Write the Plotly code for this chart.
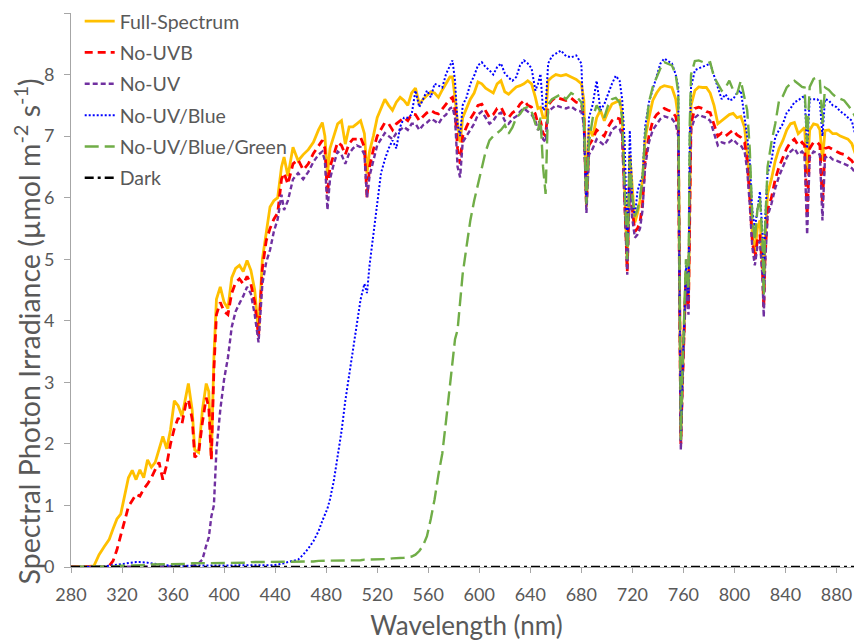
import plotly.graph_objects as go

wavelength = [280, 290, 298, 302, 306, 310, 313, 316, 319, 322, 325, 328, 331, 334, 337, 340, 343, 346, 349, 352,
              355, 358, 361, 364, 367, 370, 372, 375, 377, 380, 383, 386, 388, 390, 392, 394, 397, 400, 403, 406,
              409, 412, 415, 418, 421, 424, 427, 430, 433, 436, 439, 442, 445, 447, 450, 454, 458, 462, 466, 470,
              474, 477, 479, 481, 483, 486, 489, 492, 495, 498, 501, 504, 507, 510, 512, 514, 517, 520, 523, 526,
              529, 532, 535, 538, 541, 544, 547, 550, 553, 556, 559, 562, 565, 568, 571, 574, 577, 579, 581, 583,
              585, 587, 590, 593, 596, 599, 602, 605, 608, 611, 614, 617, 620, 623, 626, 629, 632, 635, 638, 641,
              644, 646, 648, 650, 652, 654, 657, 660, 664, 668, 672, 676, 680, 682, 684, 686, 689, 692, 695, 698,
              701, 704, 707, 710, 712, 714, 716, 718, 720, 722, 724, 726, 728, 730, 733, 736, 739, 742, 745, 748,
              751, 754, 756, 757, 758, 759, 760, 762, 764, 765, 766, 769, 772, 775, 778, 781, 784, 787, 790, 793,
              796, 799, 802, 805, 808, 810, 812, 814, 816, 818, 820, 822, 823, 824, 826, 829, 832, 835, 838, 841,
              844, 847, 850, 853, 855, 857, 859, 862, 865, 867, 869, 871, 874, 877, 880, 883, 886, 889, 892, 895,
              897, 899, 900]

full_spectrum = [0, 0, 0.02, 0.2, 0.33, 0.45, 0.62, 0.78, 0.86, 1.14, 1.45, 1.57, 1.42, 1.58, 1.45, 1.74, 1.62, 1.7, 1.9, 2.12,
                 1.92, 2.23, 2.7, 2.62, 2.45, 2.75, 2.98, 2.55, 1.9, 1.86, 2.55, 2.98, 2.85, 1.78, 3.4, 4.35, 4.55, 4.3, 4.2, 4.7,
                 4.85, 4.9, 4.8, 4.98, 4.82, 4.5, 3.8, 5.0, 5.45, 5.85, 5.95, 6.0, 6.5, 6.66, 6.35, 6.82, 6.6, 6.7, 6.78, 6.9,
                 7.1, 7.22, 7.0, 6.38, 6.8, 7.0, 7.2, 7.25, 6.87, 7.15, 7.15, 7.2, 7.25, 7.04, 6.39, 6.75, 7.0, 7.3, 7.45, 7.6,
                 7.5, 7.42, 7.55, 7.63, 7.58, 7.5, 7.7, 7.78, 7.52, 7.6, 7.66, 7.72, 7.7, 7.63, 7.75, 7.85, 7.96, 7.96, 7.63, 7.2,
                 6.9, 7.3, 7.45, 7.6, 7.7, 7.88, 7.85, 7.78, 7.74, 7.7, 7.85, 7.9, 7.72, 7.68, 7.74, 7.8, 7.82, 7.85, 7.9, 7.85,
                 7.63, 7.45, 7.47, 7.3, 7.3, 7.9, 7.96, 8.0, 7.98, 8.0, 7.96, 7.92, 7.85, 7.58, 5.85, 7.14, 7.0, 7.3, 7.42, 7.25,
                 7.4, 7.52, 7.55, 7.58, 7.36, 6.2, 4.87, 6.7, 6.1, 5.6, 5.75, 5.95, 6.3, 6.95, 7.3, 7.58, 7.7, 7.79, 7.82, 7.8,
                 7.79, 7.6, 7.3, 4.6, 2.1, 2.9, 3.6, 4.8, 4.3, 6.5, 7.5, 7.74, 7.8, 7.79, 7.79, 7.7, 7.5, 7.2, 7.25, 7.3,
                 7.35, 7.37, 7.3, 7.32, 7.14, 6.72, 6.2, 5.42, 5.1, 5.5, 5.63, 5.0, 4.5, 5.3, 6.07, 6.3, 6.6, 6.8, 6.93, 7.1,
                 7.2, 7.22, 7.04, 7.1, 7.14, 6.39, 7.1, 7.2, 7.18, 7.1, 6.6, 7.09, 7.1, 7.04, 7.04, 7.0, 6.98, 6.95, 6.88, 6.7,
                 6.39, 5.5, 4.8]

no_uvb = [0, 0, 0, 0, 0, 0.02, 0.1, 0.28, 0.5, 0.75, 0.98, 1.08, 1.18, 1.15, 1.27, 1.35, 1.45, 1.58, 1.7, 1.42,
          1.66, 2.0, 2.25, 2.42, 2.33, 2.65, 2.72, 2.4, 1.78, 1.85, 2.35, 2.75, 2.6, 1.74, 3.2, 4.1, 4.3, 4.15, 4.1, 4.45,
          4.62, 4.68, 4.6, 4.72, 4.6, 4.3, 3.75, 4.85, 5.3, 5.5, 5.65, 5.75, 6.3, 6.4, 6.22, 6.55, 6.62, 6.45, 6.55, 6.72,
          6.85, 6.93, 6.8, 6.05, 6.5, 6.7, 6.9, 6.85, 6.7, 6.88, 6.95, 6.95, 6.98, 6.82, 6.0, 6.5, 6.78, 7.0, 7.1, 7.22,
          7.2, 7.1, 7.2, 7.25, 7.3, 7.25, 7.36, 7.35, 7.25, 7.32, 7.38, 7.42, 7.38, 7.36, 7.45, 7.52, 7.6, 7.63, 7.42, 6.8,
          6.55, 7.0, 7.15, 7.28, 7.38, 7.5, 7.52, 7.4, 7.3, 7.35, 7.45, 7.47, 7.35, 7.3, 7.38, 7.42, 7.52, 7.58, 7.5, 7.47,
          7.36, 7.2, 7.25, 7.05, 7.0, 7.5, 7.58, 7.63, 7.6, 7.58, 7.62, 7.55, 7.52, 7.3, 5.9, 6.85, 6.95, 7.1, 7.05, 7.0,
          7.15, 7.25, 7.3, 7.28, 7.1, 5.9, 4.8, 6.4, 5.8, 5.45, 5.5, 5.6, 5.9, 6.6, 7.0, 7.25, 7.35, 7.4, 7.45, 7.42,
          7.4, 7.32, 7.1, 4.5, 2.0, 2.8, 3.5, 4.7, 4.2, 6.3, 7.2, 7.45, 7.47, 7.45, 7.4, 7.38, 7.2, 7.0, 7.05, 7.0,
          7.05, 7.1, 7.02, 6.98, 6.9, 6.6, 6.0, 5.3, 5.0, 5.3, 5.4, 4.8, 4.2, 5.0, 5.8, 6.0, 6.3, 6.5, 6.65, 6.8,
          6.9, 6.95, 6.85, 6.9, 6.85, 5.7, 6.8, 6.9, 6.9, 6.85, 5.9, 6.8, 6.82, 6.78, 6.75, 6.72, 6.7, 6.65, 6.6, 6.5,
          6.2, 5.3, 4.7]

no_uv = [0, 0, 0, 0, 0, 0, 0, 0, 0, 0, 0, 0, 0, 0, 0, 0, 0, 0, 0, 0,
         0, 0, 0, 0, 0, 0.01, 0.01, 0.02, 0.03, 0.06, 0.12, 0.35, 0.48, 0.82, 1.0, 1.9, 2.55, 3.05, 3.4, 3.9,
         4.15, 4.28, 4.4, 4.55, 4.44, 4.1, 3.65, 4.6, 4.95, 5.15, 5.45, 5.65, 6.05, 5.8, 5.95, 6.3, 6.4, 6.3, 6.42, 6.58,
         6.7, 6.75, 6.6, 5.8, 6.3, 6.55, 6.75, 6.7, 6.55, 6.72, 6.8, 6.85, 6.82, 6.7, 6.0, 6.35, 6.6, 6.85, 6.95, 7.05,
         7.0, 6.95, 7.05, 7.1, 7.15, 7.1, 7.2, 7.2, 7.1, 7.18, 7.22, 7.28, 7.25, 7.2, 7.3, 7.35, 7.45, 7.47, 7.3, 6.5,
         6.33, 6.9, 7.0, 7.1, 7.2, 7.35, 7.4, 7.3, 7.2, 7.25, 7.35, 7.38, 7.25, 7.2, 7.28, 7.32, 7.4, 7.45, 7.4, 7.35,
         7.25, 7.1, 7.15, 6.95, 6.9, 7.4, 7.45, 7.5, 7.47, 7.45, 7.48, 7.42, 7.4, 7.2, 5.75, 6.7, 6.8, 6.95, 6.9, 6.85,
         6.95, 7.1, 7.15, 7.12, 7.0, 5.7, 4.75, 6.2, 5.65, 5.35, 5.4, 5.5, 5.8, 6.5, 6.9, 7.1, 7.2, 7.28, 7.32, 7.3,
         7.28, 7.2, 7.0, 4.4, 1.9, 2.7, 3.5, 4.6, 4.1, 6.2, 7.1, 7.3, 7.35, 7.32, 7.3, 7.25, 7.05, 6.85, 6.9, 6.88,
         6.9, 6.95, 6.88, 6.85, 6.75, 6.45, 5.9, 5.2, 4.9, 5.2, 5.3, 4.7, 4.06, 4.9, 5.7, 5.9, 6.15, 6.35, 6.5, 6.65,
         6.75, 6.8, 6.7, 6.75, 6.7, 5.4, 6.65, 6.75, 6.72, 6.7, 5.63, 6.65, 6.68, 6.62, 6.6, 6.58, 6.55, 6.52, 6.48, 6.4,
         6.1, 5.2, 4.6]

no_uv_blue = [0, 0, 0, 0, 0.01, 0.02, 0.03, 0.04, 0.05, 0.06, 0.07, 0.08, 0.08, 0.08, 0.08, 0.07, 0.06, 0.05, 0.04, 0.03,
              0.02, 0.02, 0.02, 0.02, 0.02, 0.02, 0.02, 0.02, 0.02, 0.02, 0.02, 0.02, 0.02, 0.02, 0.02, 0.02, 0.02, 0.02, 0.02, 0.02,
              0.02, 0.02, 0.02, 0.02, 0.02, 0.02, 0.02, 0.02, 0.03, 0.03, 0.03, 0.04, 0.05, 0.06, 0.08, 0.1, 0.12, 0.2, 0.3, 0.42,
              0.58, 0.75, 0.85, 0.95, 1.1, 1.4, 1.8, 2.2, 2.7, 3.1, 3.5, 3.95, 4.35, 4.6, 4.45, 4.9, 5.4, 5.95, 6.4, 6.62,
              6.8, 6.93, 6.8, 7.15, 7.3, 7.3, 7.35, 7.74, 7.47, 7.6, 7.74, 7.63, 7.85, 7.82, 7.79, 8.01, 8.15, 8.23, 7.9, 7.2,
              7.0, 7.5, 7.63, 7.85, 7.98, 8.15, 8.2, 8.12, 8.07, 8.0, 8.12, 8.18, 8.02, 7.95, 7.9, 7.96, 8.15, 8.23, 8.18, 8.1,
              7.74, 7.85, 8.01, 7.42, 7.45, 8.18, 8.3, 8.34, 8.39, 8.3, 8.28, 8.31, 8.18, 7.09, 5.9, 7.3, 7.52, 7.9, 7.42, 7.52,
              7.7, 7.85, 7.98, 7.9, 7.6, 6.9, 5.2, 7.09, 5.95, 5.7, 6.1, 6.25, 6.35, 7.15, 7.55, 7.75, 7.96, 8.18, 8.26, 8.22,
              8.18, 8.0, 7.8, 4.6, 2.05, 2.9, 3.7, 4.9, 4.4, 7.0, 7.79, 8.07, 8.1, 8.12, 8.15, 8.18, 8.0, 7.79, 7.6, 7.68,
              7.58, 7.6, 7.7, 7.74, 7.3, 7.0, 6.6, 5.8, 5.5, 5.8, 6.1, 5.4, 4.6, 5.6, 6.4, 6.6, 6.98, 7.1, 7.2, 7.38,
              7.45, 7.55, 7.58, 7.63, 7.65, 6.8, 7.6, 7.6, 7.6, 7.55, 7.0, 7.6, 7.58, 7.5, 7.47, 7.4, 7.36, 7.3, 7.25, 7.0,
              6.72, 6.3, 6.2]

no_uv_blue_green = [0, 0, 0, 0, 0, 0.01, 0.01, 0.01, 0.02, 0.02, 0.02, 0.02, 0.03, 0.03, 0.03, 0.03, 0.04, 0.04, 0.04, 0.04,
                    0.05, 0.05, 0.05, 0.05, 0.05, 0.05, 0.05, 0.06, 0.06, 0.06, 0.06, 0.06, 0.06, 0.06, 0.06, 0.07, 0.07, 0.07, 0.07, 0.07,
                    0.07, 0.07, 0.07, 0.07, 0.08, 0.08, 0.08, 0.08, 0.08, 0.08, 0.08, 0.08, 0.08, 0.08, 0.08, 0.09, 0.09, 0.09, 0.09, 0.09,
                    0.1, 0.1, 0.1, 0.1, 0.1, 0.1, 0.1, 0.1, 0.11, 0.11, 0.11, 0.11, 0.11, 0.12, 0.12, 0.12, 0.12, 0.12, 0.13, 0.13,
                    0.13, 0.14, 0.14, 0.14, 0.15, 0.16, 0.17, 0.2, 0.26, 0.35, 0.5, 0.78, 1.1, 1.5, 1.84, 2.38, 2.95, 3.41, 3.7, 3.85,
                    4.3, 4.76, 5.2, 5.63, 5.95, 6.2, 6.5, 6.75, 6.93, 7.0, 7.05, 7.1, 7.18, 7.04, 7.14, 7.3, 7.36, 7.45, 7.47, 7.4,
                    7.2, 7.09, 7.3, 6.5, 6.06, 7.52, 7.6, 7.63, 7.68, 7.6, 7.7, 7.65, 7.55, 7.3, 5.9, 6.9, 7.3, 7.5, 7.4, 7.3,
                    7.5, 7.6, 7.62, 7.55, 7.3, 6.2, 5.0, 6.6, 6.0, 5.7, 5.8, 6.0, 6.3, 7.0, 7.55, 7.8, 7.95, 8.1, 8.2, 8.18,
                    8.15, 8.0, 7.7, 4.6, 2.06, 3.0, 3.8, 5.0, 4.5, 7.2, 8.0, 8.22, 8.23, 8.2, 8.18, 8.2, 7.96, 7.85, 7.74, 7.79,
                    7.9, 7.75, 7.68, 7.9, 7.6, 7.42, 6.8, 5.7, 5.3, 5.8, 6.0, 5.3, 4.4, 5.5, 6.5, 6.9, 7.2, 7.58, 7.65, 7.79,
                    7.85, 7.9, 7.85, 7.8, 7.79, 6.9, 7.8, 7.93, 7.96, 7.9, 7.2, 7.79, 7.75, 7.68, 7.63, 7.6, 7.58, 7.5, 7.42, 7.3,
                    7.0, 6.1, 6.3]

dark_wavelength = [280, 900]
dark = [0.0, 0.0]

x_ticks = [280, 320, 360, 400, 440, 480, 520, 560, 600, 640, 680, 720, 760, 800, 840, 880]
y_ticks = [0, 1, 2, 3, 4, 5, 6, 7, 8, 9]

series = [
    ("Full-Spectrum", wavelength, full_spectrum, "#FFC000", "solid", 2.8),
    ("No-UVB", wavelength, no_uvb, "#FF0000", "8px,5px", 2.8),
    ("No-UV", wavelength, no_uv, "#7030A0", "5px,3px", 2.4),
    ("No-UV/Blue", wavelength, no_uv_blue, "#0000FF", "2px,2px", 2.0),
    ("No-UV/Blue/Green", wavelength, no_uv_blue_green, "#70AD47", "14px,6px", 2.4),
    ("Dark", dark_wavelength, dark, "#000000", "9px,4px,3px,4px", 2.5),
]

fig = go.Figure()
for i, (name, xs, ys, color, dash, w) in enumerate(series):
    fig.add_trace(go.Scatter(x=xs, y=ys, mode="lines", name=name, legendgroup=f"g{i}",
                             line=dict(color=color, dash=dash, width=w)))

font_family = "Lato, 'Open Sans', sans-serif"
grey = "#595959"
# the page body has an 8px margin, so the figure is sized to fill the rest of the window
fig.update_layout(
    width=854, height=633,
    margin=dict(l=63, r=0, t=5, b=74, autoexpand=False),
    paper_bgcolor="white", plot_bgcolor="white",
    font=dict(family=font_family, color=grey),
    showlegend=True,
    legend=dict(x=0.011, y=1.020, xanchor="left", yanchor="top",
                font=dict(size=19.5, color=grey, family=font_family),
                bgcolor="rgba(0,0,0,0)", tracegroupgap=3, itemwidth=30),
    xaxis=dict(range=[280, 900], tickvals=x_ticks, ticks="outside", ticklen=5, tickcolor="#A6A6A6",
               showline=True, linecolor="#A6A6A6", linewidth=1, showgrid=False, zeroline=False,
               automargin=False, ticklabelstandoff=6,
               tickfont=dict(size=18, color=grey),
               title=dict(text="Wavelength (nm)", font=dict(size=26, color=grey), standoff=15)),
    yaxis=dict(range=[0, 9], tickvals=y_ticks, ticks="outside", ticklen=6, tickcolor="#A6A6A6",
               showline=True, linecolor="#A6A6A6", linewidth=1, showgrid=False, zeroline=False,
               automargin=False, ticklabelstandoff=6,
               tickfont=dict(size=18, color=grey)),
    annotations=[dict(text="Spectral Photon Irradiance (µmol m<sup>-2</sup> s<sup>-1</sup>)",
                      xref="paper", yref="paper", x=-0.055, y=0.426, xanchor="center", yanchor="middle",
                      textangle=-90, showarrow=False, font=dict(size=28.5, color=grey, family=font_family))],
)

fig.write_html("out.html")
